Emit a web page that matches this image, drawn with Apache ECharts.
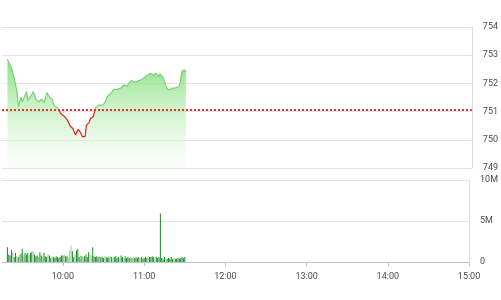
<!DOCTYPE html>
<html><head><meta charset="utf-8">
<script src="https://cdn.jsdelivr.net/npm/echarts@6/dist/echarts.min.js"></script>
<style>html,body{margin:0;padding:0;background:#fff}#c{width:501px;height:300px}</style>
</head><body><div id="c"></div>
<script>
// ---- data ----
const priceTimes = ['9:19','9:20','9:22','9:23','9:24','9:25','9:26','9:27','9:29','9:30',
 '9:33','9:34','9:36','9:38','9:40','9:42','9:44','9:46','9:48','9:50',
 '9:52','9:53','9:56','9:58','9:59','10:01','10:03','10:05','10:07','10:09',
 '10:10','10:11','10:13','10:14','10:16','10:17','10:19','10:20','10:22','10:23',
 '10:24','10:26','10:29','10:31','10:32','10:35','10:37','10:40','10:42','10:45',
 '10:47','10:48','10:50','10:52','10:54','10:57','10:59','11:01','11:04','11:06',
 '11:08','11:10','11:11','11:13','11:14','11:16','11:18','11:20','11:22','11:25',
 '11:26','11:27','11:29','11:30'];
const priceValues = [752.86,752.84,752.54,752.60,752.18,752.12,751.71,751.18,751.51,751.35,
 751.71,751.39,751.53,751.71,751.41,751.35,751.44,751.32,751.67,751.51,
 751.41,751.23,751.12,750.94,751.00,750.82,750.70,750.49,750.40,750.17,
 750.23,750.37,750.23,750.11,750.11,750.52,750.61,750.76,750.82,751.00,
 751.15,751.23,751.23,751.35,751.51,751.65,751.79,751.79,751.83,751.95,
 751.89,752.01,752.10,752.04,752.07,752.12,752.18,752.27,752.36,752.30,
 752.36,752.24,752.34,752.24,752.30,751.83,751.77,751.83,751.83,751.89,
 752.07,752.42,752.48,752.39];
const refPrice = 751.06;
const volStartTime = '9:19';           // one bar per minute from here
const volValuesM = [1.8,0.9,0.8,1.5,1.2,0.6,1.1,
 0.7,0.6,0.9,1.0,1.6,0.8,1.1,0.9,1.1,0.8,
 1.1,1.2,1.3,0.9,0.7,0.8,0.6,1.2,0.8,0.6,
 1.1,0.7,0.6,0.9,0.8,0.5,0.7,0.6,0.5,0.7,
 0.6,0.5,0.6,0.8,0.8,0.9,0.7,0.7,0.6,1.4,
 2.0,1.3,0.6,0.9,1.4,1.6,0.6,0.8,0.7,0.6,
 0.7,0.9,0.6,1.2,0.9,0.8,1.8,0.7,0.6,0.7,
 0.6,0.7,0.6,0.6,0.5,0.7,0.6,0.5,0.6,0.7,
 0.6,0.5,0.6,0.7,0.5,0.6,0.5,0.8,0.6,0.5,
 0.7,0.5,0.6,0.5,0.6,0.5,0.6,0.5,0.6,0.5,
 0.6,0.5,0.6,0.4,0.5,0.6,0.5,0.7,0.6,0.6,
 0.7,0.6,0.5,0.6,0.5,0.6,5.9,0.5,0.4,0.6,
 0.5,0.4,0.5,0.4,0.6,0.4,0.5,0.4,0.4,0.5,0.4,0.5,0.6,0.5,0.6];
const volTone = 'ddddlddldlddldddlddldddlddldddlddlddddddddlddlllddldddldlddddlldddddldddldddldlddddlddlddddldlddddldddddlddddldddddddldddddlddddddd';
const xTickLabels = ['10:00','11:00','12:00','13:00','14:00','15:00'];
const sessionStart = '9:15', sessionEnd = '15:00';
const priceAxis = {min: 749, max: 754, step: 1};
const volAxis = {min: 0, max: 10, step: 5}; // millions

// ---- helpers ----
const toMin = s => { const [h, m] = s.split(':').map(Number); return h * 60 + m; };
const fmt = v => { const h = Math.floor(v / 60), m = v % 60; return h + ':' + String(m).padStart(2, '0'); };
const minuteCats = [];
for (let t = toMin(sessionStart); t <= toMin(sessionEnd); t++) minuteCats.push(fmt(t));
const priceData = priceTimes.map((t, i) => [t, priceValues[i]]);
const v0 = toMin(volStartTime);
const volData = volValuesM.map((v, i) => ({
  value: [fmt(v0 + i), v * 1e6],
  itemStyle: {color: volTone[i] === 'l' ? '#93d293' : '#1e8a28'}
}));
const isHour = (idx, val) => xTickLabels.indexOf(val) >= 0;

const font = 'Roboto, "Liberation Sans", sans-serif';
const labelStyle = {fontSize: 9, color: '#4a4a4a', fontFamily: font};
const upColor = '#78d274', downColor = '#e02020';

const chart = echarts.init(document.getElementById('c'), null, {renderer: 'canvas'});
chart.setOption({
  animation: false,
  backgroundColor: '#fff',
  grid: [
    {left: 2, right: 27, top: 27, height: 141},
    {left: 2, right: 27, top: 180, height: 82}
  ],
  xAxis: [
    {type: 'category', gridIndex: 0, data: minuteCats, boundaryGap: false, show: false},
    {type: 'category', gridIndex: 1, data: minuteCats, boundaryGap: false,
     axisLine: {show: true, lineStyle: {color: '#b7c4da', width: 1}},
     axisTick: {show: true, interval: isHour, length: 4, lineStyle: {color: '#b7c4da'}},
     axisLabel: Object.assign({interval: isHour, margin: 10}, labelStyle),
     splitLine: {show: false}}
  ],
  yAxis: [
    {type: 'value', gridIndex: 0, position: 'right', min: priceAxis.min, max: priceAxis.max, interval: priceAxis.step,
     axisLine: {show: true, lineStyle: {color: '#dcdcdc'}},
     axisTick: {show: false},
     axisLabel: Object.assign({margin: 11}, labelStyle),
     splitLine: {show: true, lineStyle: {color: '#e4e4e4'}}},
    {type: 'value', gridIndex: 1, position: 'right', min: volAxis.min * 1e6, max: volAxis.max * 1e6, interval: volAxis.step * 1e6,
     axisLine: {show: true, lineStyle: {color: '#dcdcdc'}},
     axisTick: {show: false},
     axisLabel: Object.assign({margin: 11, formatter: v => v === 0 ? '0' : (v / 1e6) + 'M'}, labelStyle),
     splitLine: {show: true, lineStyle: {color: '#e4e4e4'}}}
  ],
  series: [
    {type: 'line', xAxisIndex: 0, yAxisIndex: 0, data: priceData, showSymbol: false, symbol: 'none',
     lineStyle: {width: 1.2, color: upColor},
     areaStyle: {opacity: 1, color: new echarts.graphic.LinearGradient(0, 0, 0, 1, [
       {offset: 0, color: 'rgba(125,220,115,0.9)'},
       {offset: 1, color: 'rgba(240,253,238,0.3)'}
     ])},
     markLine: {silent: true, symbol: 'none', label: {show: false},
       lineStyle: {color: '#e03030', type: [2, 2], width: 2},
       data: [{yAxis: refPrice}]}
    },
    {type: 'bar', xAxisIndex: 1, yAxisIndex: 1, data: volData, barWidth: 1}
  ]
});
// colour the price line red below the reference price, using the axis scale
const yTop = chart.convertToPixel({yAxisIndex: 0}, priceAxis.max);
const yBot = chart.convertToPixel({yAxisIndex: 0}, priceAxis.min);
const yRef = chart.convertToPixel({yAxisIndex: 0}, refPrice);
const f = (yRef - yTop) / (yBot - yTop);
chart.setOption({series: [{lineStyle: {color: new echarts.graphic.LinearGradient(0, yTop, 0, yBot, [
  {offset: 0, color: upColor}, {offset: f, color: upColor},
  {offset: f, color: downColor}, {offset: 1, color: downColor}
], true)}}]});
</script></body></html>
